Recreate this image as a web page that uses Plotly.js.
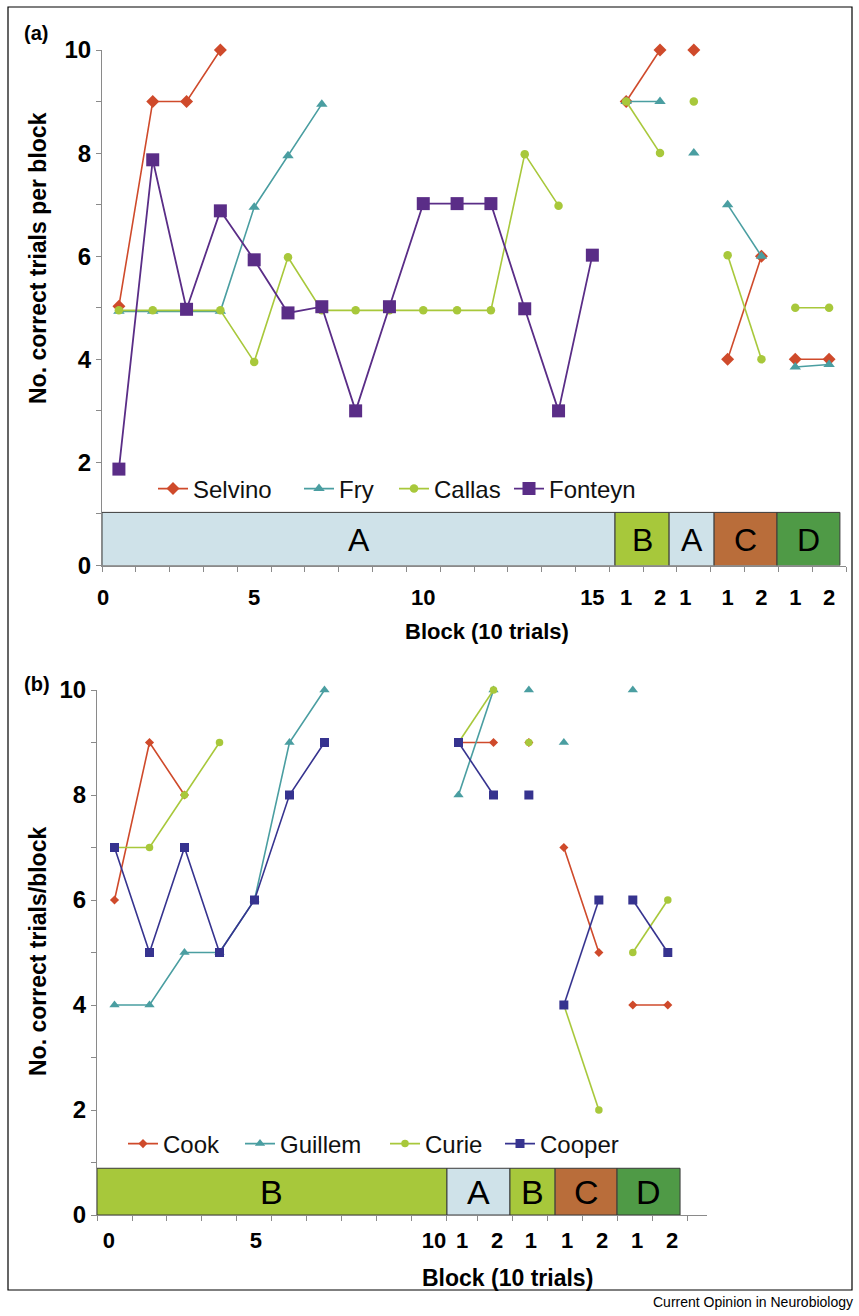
<!DOCTYPE html>
<html>
<head>
<meta charset="utf-8">
<script src="https://cdn.plot.ly/plotly-3.0.1.min.js"></script>
<style>html,body{margin:0;padding:0;background:#fff;}#chart{width:859px;height:1316px;}</style>
</head>
<body>
<div id="chart"></div>
<script>
// ---------- Data, panel (a) ----------
// block positions (null = line break between phases)
const blocksA = [1,2,3,4,5,6,7,8,9,10,11,12,13,14,15, null, 16,17, null, 18, null, 19,20, null, 21,22];
const selvino = [5.03,9,9,10,null,null,null,null,null,null,null,null,null,null,null, null, 9,10, null, 10, null, 4,6, null, 4,4];
const fry     = [4.93,4.93,4.93,4.93,6.95,7.95,8.95,null,null,null,null,null,null,null,null, null, 9,9, null, 8, null, 7,6, null, 3.85,3.9];
const callas  = [4.95,4.95,4.95,4.95,3.95,5.98,4.95,4.95,4.95,4.95,4.95,4.95,7.98,6.98,null, null, 9,8, null, 9, null, 6.02,4, null, 5,5];
const fonteyn = [1.87,7.87,4.97,6.88,5.93,4.9,5.02,3.0,5.02,7.02,7.02,7.02,4.98,3.0,6.02, null, null,null, null, null, null, null,null, null, null,null];
const tickValsA = [0.53, 5, 10, 15, 16, 17, 17.75, 19, 20, 21, 22];
const tickTextA = ['0','5','10','15','1','2','1','1','2','1','2'];
const regionLabelsA = ['A','B','A','C','D'];
const regionEdgesA = [0.5, 15.67, 17.27, 18.6, 20.46, 22.32];

// ---------- Data, panel (b) ----------
const blocksB = [1,2,3,4,5,6,7, null, 10.83,11.83, null, 12.84, null, 13.84,14.84, null, 15.81,16.81];
const cook    = [6,9,8,null,null,null,null, null, 9,9, null, 9, null, 7,5, null, 4,4];
const guillem = [4,4,5,5,6,9,10, null, 8,10, null, 10, null, 9,null, null, 10,null];
const curie   = [7,7,8,9,null,null,null, null, 9,10, null, 9, null, 4,2, null, 5,6];
const cooper  = [7,5,7,5,6,8,9, null, 9,8, null, 8, null, 4,6, null, 6,5];
const tickValsB = [0.84, 5.04, 10.13, 10.93, 11.93, 12.9, 13.93, 14.93, 15.93, 16.93];
const tickTextB = ['0','5','10','1','2','1','1','2','1','2'];
const regionLabelsB = ['B','A','B','C','D'];
const regionEdgesB = [0.5, 10.5, 12.3, 13.59, 15.36, 17.16];

// ---------- Style ----------
const W = 859, H = 1316;
const FONT = 'Liberation Sans, Arial, Helvetica, sans-serif';
const RED = '#cf4a2b', TEAL = '#4a9ea1', LIME = '#a8c83b', PURPLE = '#5a2d87', NAVY = '#36338f';
const REGION_COLORS = {A:'#cfe2e9', B:'#a7c83b', C:'#b96d3a', D:'#4f9a46'};
const px = v => v / W, py = v => 1 - v / H;

function tr(x, y, name, color, symbol, size, xa, ya, legend, lw) {
  return {x: x, y: y, name: name, type: 'scatter', mode: 'lines+markers',
    xaxis: xa, yaxis: ya, legend: legend, connectgaps: false, cliponaxis: false,
    line: {color: color, width: lw || 1.6},
    marker: {color: color, symbol: symbol, size: size}, hoverinfo: 'skip'};
}

const traces = [
  tr(blocksA, selvino, 'Selvino', RED, 'diamond', 10, 'x', 'y', 'legend'),
  tr(blocksA, fry, 'Fry', TEAL, 'triangle-up', 10, 'x', 'y', 'legend2'),
  tr(blocksA, callas, 'Callas', LIME, 'circle', 8.5, 'x', 'y', 'legend3'),
  tr(blocksA, fonteyn, 'Fonteyn', PURPLE, 'square', 13, 'x', 'y', 'legend4', 1.8),
  tr(blocksB, cook, 'Cook', RED, 'diamond', 7, 'x2', 'y2', 'legend5'),
  tr(blocksB, guillem, 'Guillem', TEAL, 'triangle-up', 9, 'x2', 'y2', 'legend6'),
  tr(blocksB, curie, 'Curie', LIME, 'circle', 7.5, 'x2', 'y2', 'legend7'),
  tr(blocksB, cooper, 'Cooper', NAVY, 'square', 9, 'x2', 'y2', 'legend8'),
];

function halfTicks(a, b) { const v = []; for (let t = a; t <= b + 1e-9; t += 1) v.push(t); return v; }
const minorA = halfTicks(0.5, 22.5);
const minorB = halfTicks(0.5, 10.5).concat([11.36, 12.36, 13.36, 14.36, 15.36, 16.36, 17.36]);

const xTickFont = {family: FONT, size: 22, color: '#000', weight: 'bold'};
const yTickFont = {family: FONT, size: 24, color: '#000', weight: 'bold'};
function xAxis(dom, rng, tv, tt, minor, anchor, standoff) {
  return {domain: dom, range: rng, anchor: anchor, tickmode: 'array', tickvals: tv, ticktext: tt,
    ticks: '', showgrid: false, zeroline: false, showline: true, linecolor: '#8a8a8a', linewidth: 1,
    tickfont: xTickFont, ticklabelstandoff: standoff, fixedrange: true,
    minor: {tickmode: 'array', tickvals: minor, ticks: 'outside', ticklen: 5, tickcolor: '#8a8a8a', tickwidth: 1, showgrid: false}};
}
function yAxis(dom, anchor) {
  return {domain: dom, range: [0, 10], anchor: anchor, tickmode: 'array', tickvals: [0,2,4,6,8,10],
    ticks: 'outside', ticklen: 5, tickcolor: '#8a8a8a', showgrid: false, zeroline: false,
    showline: true, linecolor: '#8a8a8a', linewidth: 1, tickfont: yTickFont, fixedrange: true,
    minor: {dtick: 1, ticks: 'outside', ticklen: 5, tickcolor: '#8a8a8a', tickwidth: 1, showgrid: false}};
}

const shapes = [], annotations = [];
function regions(labels, edges, top, xref, yref, fs, ty) {
  labels.forEach((lab, i) => {
    shapes.push({type: 'rect', xref: xref, yref: yref, x0: edges[i], x1: edges[i+1], y0: 0, y1: top,
      fillcolor: REGION_COLORS[lab], line: {color: '#3a3a3a', width: 1}, layer: 'above'});
    annotations.push({xref: xref, yref: yref, x: (edges[i] + edges[i+1]) / 2, y: ty, text: lab,
      showarrow: false, font: {family: FONT, size: fs, color: '#000'}, xanchor: 'center', yanchor: 'middle'});
  });
}
regions(regionLabelsA, regionEdgesA, 1.03, 'x', 'y', 32, 0.5);
regions(regionLabelsB, regionEdgesB, 0.89, 'x2', 'y2', 34, 0.44);

// outer frame
shapes.push({type: 'rect', xref: 'paper', yref: 'paper', x0: px(8), x1: px(852), y0: py(1290), y1: py(7),
  line: {color: '#000', width: 1.2}, fillcolor: 'rgba(0,0,0,0)'});

function txt(x, y, text, size, bold, extra) {
  annotations.push(Object.assign({xref: 'paper', yref: 'paper', x: px(x), y: py(y), text: text, showarrow: false,
    xanchor: 'center', yanchor: 'middle',
    font: {family: FONT, size: size, color: '#000', weight: bold ? 'bold' : 'normal'}}, extra || {}));
}
txt(36, 33, '(a)', 20, true);
txt(37, 684, '(b)', 20, true);
txt(38, 258, 'No. correct trials per block', 23, true, {textangle: -90});
txt(38, 952, 'No. correct trials/block', 23, true, {textangle: -90});
txt(487, 631, 'Block (10 trials)', 22, true);
txt(507, 1278, 'Block (10 trials)', 23, true);
txt(855, 1302, 'Current Opinion in Neurobiology', 14, false, {xanchor: 'right'});

function leg(x, y) {
  return {x: px(x), y: py(y), xanchor: 'left', yanchor: 'middle', orientation: 'h',
    bgcolor: 'rgba(0,0,0,0)', borderwidth: 0, font: {family: FONT, size: 24, color: '#111'}};
}

const layout = {
  width: W, height: H, margin: {l: 0, r: 0, t: 0, b: 0}, paper_bgcolor: '#fff', plot_bgcolor: 'rgba(0,0,0,0)',
  font: {family: FONT}, showlegend: true,
  xaxis: xAxis([px(102), px(846)], [0.5, 22.5], tickValsA, tickTextA, minorA, 'y', 12),
  yaxis: yAxis([py(565.5), py(50)], 'x'),
  xaxis2: xAxis([px(97), px(707)], [0.5, 17.93], tickValsB, tickTextB, minorB, 'y2', 6),
  yaxis2: yAxis([py(1215), py(690)], 'x2'),
  legend: leg(153, 489), legend2: leg(299, 489), legend3: leg(394, 489), legend4: leg(509, 489),
  legend5: leg(123, 1144), legend6: leg(240, 1144), legend7: leg(385, 1144), legend8: leg(500, 1144),
  shapes: shapes, annotations: annotations
};

Plotly.newPlot('chart', traces, layout, {staticPlot: true, displayModeBar: false});
</script>
</body>
</html>
